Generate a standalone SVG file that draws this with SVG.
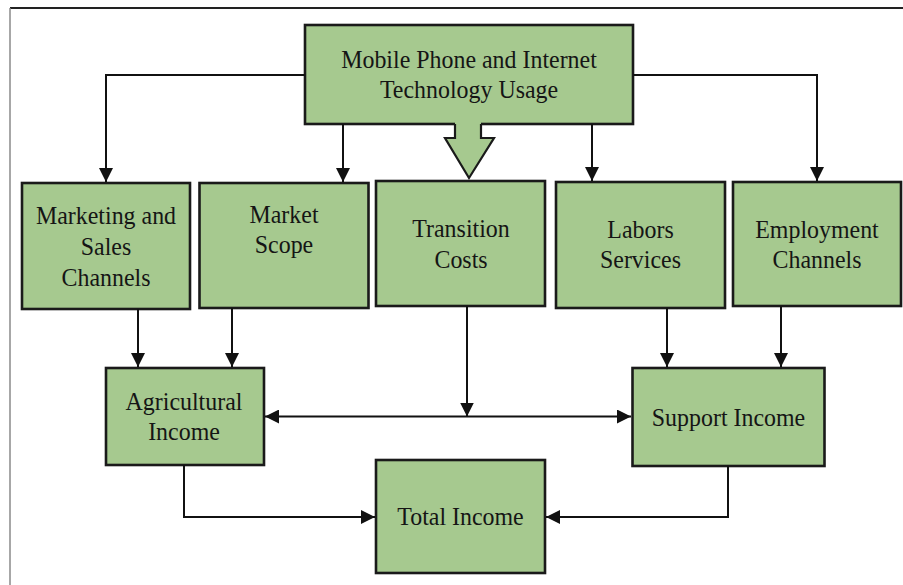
<svg xmlns="http://www.w3.org/2000/svg" width="903" height="585" viewBox="0 0 903 585">
  <style>
    .box { fill: #a6c98f; stroke: #1a1a1a; stroke-width: 2.6; }
    .lbl { font-family: "Liberation Serif", "Times New Roman", serif; font-size: 26px; fill: #151515; text-anchor: middle; }
    .wire { fill: none; stroke: #111; stroke-width: 2; }
  </style>
  <defs>
    <marker id="head" markerUnits="userSpaceOnUse" markerWidth="14" markerHeight="14" viewBox="0 0 14 14" refX="14" refY="7" orient="auto">
      <path d="M0,0 L14,7 L0,14 z" fill="#111"/>
    </marker>
    <marker id="tail" markerUnits="userSpaceOnUse" markerWidth="14" markerHeight="14" viewBox="0 0 14 14" refX="0" refY="7" orient="auto">
      <path d="M14,0 L0,7 L14,14 z" fill="#111"/>
    </marker>
  </defs>

  <!-- page frame -->
  <line x1="10" y1="8" x2="903" y2="8" stroke="#222" stroke-width="2"/>
  <line x1="10" y1="8" x2="10" y2="585" stroke="#8a8a8a" stroke-width="1.5"/>

  <!-- top node with block arrow -->
  <g id="technology-usage">
    <rect class="box" x="305" y="25" width="328" height="99"/>
    <polygon points="455,121 455,138 445,138 469,178 494,138 481,138 481,121" fill="#a6c98f"/>
    <polyline points="455,124 455,138 445,138 469,178 494,138 481,138 481,124" fill="none" stroke="#1a1a1a" stroke-width="2.2"/>
    <text class="lbl" transform="translate(469 68) scale(.92 1)">Mobile Phone  and Internet</text>
    <text class="lbl" transform="translate(469 98) scale(.92 1)">Technology Usage</text>
  </g>

  <g id="marketing-sales">
    <rect class="box" x="22" y="183" width="168" height="126"/>
    <text class="lbl" transform="translate(106 224) scale(.92 1)">Marketing and</text>
    <text class="lbl" transform="translate(106 255) scale(.92 1)">Sales</text>
    <text class="lbl" transform="translate(106 286) scale(.92 1)">Channels</text>
  </g>

  <g id="market-scope">
    <rect class="box" x="199.5" y="183" width="169" height="125"/>
    <text class="lbl" transform="translate(284 223) scale(.92 1)">Market</text>
    <text class="lbl" transform="translate(284 253) scale(.92 1)">Scope</text>
  </g>

  <g id="transition-costs">
    <rect class="box" x="376" y="181" width="169" height="125"/>
    <text class="lbl" transform="translate(461 237) scale(.92 1)">Transition</text>
    <text class="lbl" transform="translate(461 268) scale(.92 1)">Costs</text>
  </g>

  <g id="labors-services">
    <rect class="box" x="556" y="182" width="169" height="126"/>
    <text class="lbl" transform="translate(640.5 238) scale(.92 1)">Labors</text>
    <text class="lbl" transform="translate(640.5 268) scale(.92 1)">Services</text>
  </g>

  <g id="employment-channels">
    <rect class="box" x="733" y="182" width="168" height="124"/>
    <text class="lbl" transform="translate(817 238) scale(.92 1)">Employment</text>
    <text class="lbl" transform="translate(817 268) scale(.92 1)">Channels</text>
  </g>

  <g id="agricultural-income">
    <rect class="box" x="106" y="368" width="158" height="97"/>
    <text class="lbl" transform="translate(184 410) scale(.92 1)">Agricultural</text>
    <text class="lbl" transform="translate(184 440) scale(.92 1)">Income</text>
  </g>

  <g id="support-income">
    <rect class="box" x="632.5" y="368" width="192" height="98"/>
    <text class="lbl" transform="translate(728.5 426) scale(.92 1)">Support Income</text>
  </g>

  <g id="total-income">
    <rect class="box" x="376" y="460" width="169" height="113"/>
    <text class="lbl" transform="translate(460.5 525) scale(.92 1)">Total Income</text>
  </g>

  <g id="connectors">
    <!-- from technology usage to the five channels -->
    <path class="wire" d="M305,75 H106 V182" marker-end="url(#head)"/>
    <path class="wire" d="M343,124 V182" marker-end="url(#head)"/>
    <path class="wire" d="M592,124 V181" marker-end="url(#head)"/>
    <path class="wire" d="M633,75 H817 V181" marker-end="url(#head)"/>
    <!-- channels into incomes -->
    <path class="wire" d="M138,309 V367" marker-end="url(#head)"/>
    <path class="wire" d="M232,308 V367" marker-end="url(#head)"/>
    <path class="wire" d="M667,308 V367" marker-end="url(#head)"/>
    <path class="wire" d="M781,306 V367" marker-end="url(#head)"/>
    <!-- transition costs onto the income link -->
    <path class="wire" d="M467,306 V416.5" marker-end="url(#head)"/>
    <!-- agricultural / support two-way link -->
    <path class="wire" d="M265,416.5 H631" marker-start="url(#tail)" marker-end="url(#head)"/>
    <!-- incomes into total -->
    <path class="wire" d="M184,465 V517 H375" marker-end="url(#head)"/>
    <path class="wire" d="M728,466 V517 H546" marker-end="url(#head)"/>
  </g>
</svg>
